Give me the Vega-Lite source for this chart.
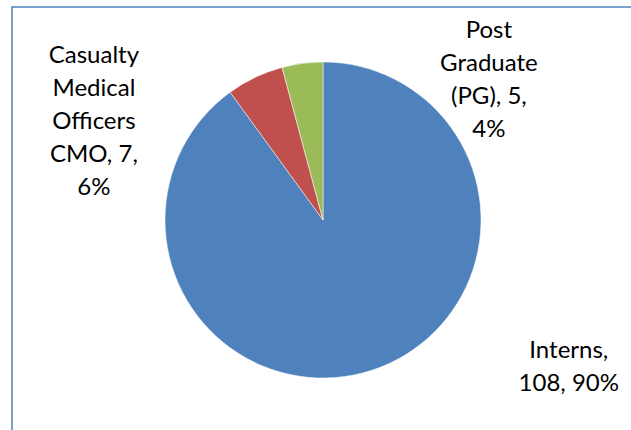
{
  "$schema": "https://vega.github.io/schema/vega-lite/v6.json",
  "autosize": {"type": "none"},
  "width": 622,
  "height": 426,
  "padding": {"left": 12, "top": 7, "right": -3, "bottom": -3},
  "background": "white",
  "view": {"stroke": "#4F81BD", "strokeWidth": 1.5, "fill": "white"},
  "config": {"view": {"stroke": "#4F81BD", "strokeWidth": 1.5}},
  "data": {
    "values": [
      {"cat": "Interns", "count": 108, "label": "Interns,\n108, 90%"},
      {"cat": "Casualty Medical Officers CMO", "count": 7, "label": "Casualty\nMedical\nOfficers\nCMO, 7,\n6%"},
      {"cat": "Post Graduate (PG)", "count": 5, "label": "Post\nGraduate\n(PG), 5,\n4%"}
    ]
  },
  "encoding": {
    "theta": {"field": "count", "type": "quantitative", "stack": true},
    "order": {"field": "count", "type": "quantitative", "sort": "descending"}
  },
  "layer": [
    {
      "mark": {"type": "arc", "outerRadius": 158, "stroke": "white", "strokeWidth": 0.5},
      "encoding": {
        "color": {
          "field": "cat",
          "type": "nominal",
          "scale": {
            "domain": ["Interns", "Casualty Medical Officers CMO", "Post Graduate (PG)"],
            "range": ["#4F81BD", "#C0504D", "#9BBB59"]
          },
          "legend": null
        }
      }
    },
    {
      "mark": {"type": "text", "radius": 200, "dx": 184, "dy": -52, "align": "center", "baseline": "alphabetic", "lineBreak": "\n", "lineHeight": 33, "font": "Lato", "fontSize": 24, "fill": "black"},
      "encoding": {"text": {"condition": {"test": "datum.cat === 'Interns'", "field": "label"}, "value": ""}}
    },
    {
      "mark": {"type": "text", "radius": 200, "dx": -143, "dy": 23.5, "align": "center", "baseline": "alphabetic", "lineBreak": "\n", "lineHeight": 33, "font": "Lato", "fontSize": 24, "fill": "black"},
      "encoding": {"text": {"condition": {"test": "datum.cat === 'Casualty Medical Officers CMO'", "field": "label"}, "value": ""}}
    },
    {
      "mark": {"type": "text", "radius": 200, "dx": 192, "dy": 16, "align": "center", "baseline": "alphabetic", "lineBreak": "\n", "lineHeight": 33, "font": "Lato", "fontSize": 24, "fill": "black"},
      "encoding": {"text": {"condition": {"test": "datum.cat === 'Post Graduate (PG)'", "field": "label"}, "value": ""}}
    }
  ]
}
